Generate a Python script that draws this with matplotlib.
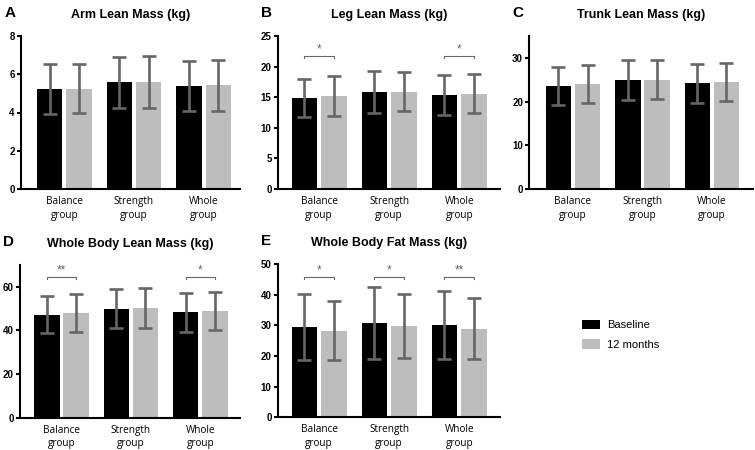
import numpy as np
import matplotlib.pyplot as plt
from matplotlib.patches import Patch

groups = ["Balance\ngroup", "Strength\ngroup", "Whole\ngroup"]

arm_base = [5.22, 5.58, 5.38]
arm_base_sd = [1.32, 1.32, 1.32]
arm_12m = [5.25, 5.60, 5.42]
arm_12m_sd = [1.28, 1.35, 1.32]

leg_base = [14.9, 15.9, 15.35]
leg_base_sd = [3.1, 3.4, 3.25]
leg_12m = [15.2, 15.9, 15.55]
leg_12m_sd = [3.2, 3.15, 3.2]

trunk_base = [23.6, 24.9, 24.2]
trunk_base_sd = [4.4, 4.6, 4.5]
trunk_12m = [24.0, 25.0, 24.5]
trunk_12m_sd = [4.3, 4.5, 4.4]

wb_lean_base = [47.1, 49.9, 48.4]
wb_lean_base_sd = [8.5, 9.0, 8.9]
wb_lean_12m = [48.0, 50.2, 49.0]
wb_lean_12m_sd = [8.5, 9.1, 8.8]

wb_fat_base = [29.5, 30.7, 30.1]
wb_fat_base_sd = [10.8, 11.7, 11.2]
wb_fat_12m = [28.3, 29.7, 28.9]
wb_fat_12m_sd = [9.6, 10.4, 10.0]

panels = [
    ("A", "Arm Lean Mass (kg)", arm_base, arm_base_sd, arm_12m, arm_12m_sd, 8, [0, 2, 4, 6, 8], {}, 0),
    ("B", "Leg Lean Mass (kg)", leg_base, leg_base_sd, leg_12m, leg_12m_sd, 25, [0, 5, 10, 15, 20, 25], {0: "*", 2: "*"}, 21.7),
    ("C", "Trunk Lean Mass (kg)", trunk_base, trunk_base_sd, trunk_12m, trunk_12m_sd, 35, [0, 10, 20, 30], {}, 0),
    ("D", "Whole Body Lean Mass (kg)", wb_lean_base, wb_lean_base_sd, wb_lean_12m, wb_lean_12m_sd, 70, [0, 20, 40, 60], {0: "**", 2: "*"}, 64.5),
    ("E", "Whole Body Fat Mass (kg)", wb_fat_base, wb_fat_base_sd, wb_fat_12m, wb_fat_12m_sd, 50, [0, 10, 20, 30, 40, 50], {0: "*", 1: "*", 2: "**"}, 45.8),
]

# axes rectangles in figure fraction (left, bottom, width, height)
rects = [
    (0.0278, 0.580, 0.290, 0.340),
    (0.368, 0.580, 0.294, 0.340),
    (0.701, 0.580, 0.297, 0.340),
    (0.0265, 0.072, 0.292, 0.339),
    (0.368, 0.073, 0.294, 0.340),
]
xlims = [(-0.62, 2.52), (-0.59, 2.58), (-0.63, 2.6), (-0.60, 2.58), (-0.59, 2.58)]

plt.rcParams["font.family"] = ["Liberation Sans", "DejaVu Sans"]

fig = plt.figure(figsize=(7.55, 4.5), dpi=100)

black = "#000000"
grey = "#bdbdbd"
err = "#666666"
w = 0.367
off = 0.21
x = np.arange(3)

for (letter, title, base, base_sd, m12, m12_sd, ymax, yt, sig, sig_y), rect, xl in zip(panels, rects, xlims):
    ax = fig.add_axes(rect)
    ax.bar(x - off, base, w, color=black)
    ax.bar(x + off, m12, w, color=grey)
    ax.errorbar(x - off, base, yerr=base_sd, fmt="none", ecolor=err, elinewidth=1.9, capsize=5, capthick=1.9)
    ax.errorbar(x + off, m12, yerr=m12_sd, fmt="none", ecolor=err, elinewidth=1.9, capsize=5, capthick=1.9)
    for i, s in sig.items():
        h = ymax * 0.012
        ax.plot([i - off, i - off, i + off, i + off], [sig_y - h, sig_y, sig_y, sig_y - h], color=err, lw=0.8)
        ax.text(i, sig_y + ymax * 0.005, s, ha="center", va="bottom", fontsize=8.5, color=err)
    ax.set_xlim(*xl)
    ax.set_ylim(0, ymax)
    ax.set_yticks(yt)
    ax.set_yticklabels([str(v) for v in yt], fontsize=7, fontweight="bold")
    ax.set_xticks(x)
    ax.set_xticklabels(groups, fontsize=7.2, family=["Open Sans", "DejaVu Sans"], linespacing=1.35)
    ax.tick_params(axis="x", length=0, pad=5)
    ax.tick_params(axis="y", length=3, width=1.5, pad=1.5)
    for sp in ["top", "right"]:
        ax.spines[sp].set_visible(False)
    for sp in ["left", "bottom"]:
        ax.spines[sp].set_linewidth(1.5)
    ax.set_title(title, fontsize=9, fontweight="bold", pad=13)
    fig.text(rect[0] - 0.022, rect[1] + rect[3] + 0.066, letter, fontsize=11, fontweight="bold", va="top")

handles = [Patch(facecolor=black, label="Baseline"), Patch(facecolor=grey, label="12 months")]
fig.legend(handles=handles, loc="upper left", bbox_to_anchor=(0.7705, 0.29), frameon=False, fontsize=8,
           handlelength=1.6, handleheight=0.96, handletextpad=0.7, labelspacing=0.8, borderpad=0,
           borderaxespad=0)

fig.savefig("out.png", dpi=100)
